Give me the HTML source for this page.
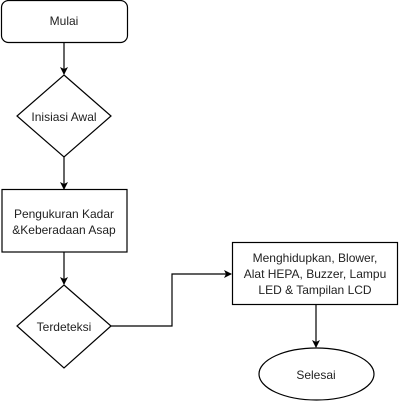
<!DOCTYPE html>
<html><head><style>body{margin:0;background:#fff}</style></head><body>
<svg width="401" height="401" viewBox="0 0 401 401" xmlns="http://www.w3.org/2000/svg" font-family="Liberation Sans, Arial, sans-serif" font-size="12" fill="#222">
<defs><marker id="a" markerWidth="8" markerHeight="8" refX="7" refY="4" orient="auto" markerUnits="userSpaceOnUse"><path d="M0,0 L8,4 L0,8 L2,4 Z" fill="#000"/></marker></defs>
<g stroke="#000" stroke-width="1.2" fill="none">
<rect x="1.5" y="0.5" width="126" height="42" rx="7"/>
<path d="M64,75 L111,116 L64,157 L17,116 Z"/>
<rect x="2" y="189.5" width="125" height="62.5"/>
<path d="M64,285 L111,326 L64,368 L17,326 Z"/>
<rect x="232.5" y="242.5" width="165" height="62"/>
<ellipse cx="316.5" cy="374" rx="57.5" ry="26"/>
<path d="M64,43 V74" marker-end="url(#a)"/>
<path d="M64,157 V189" marker-end="url(#a)"/>
<path d="M64,252 V284" marker-end="url(#a)"/>
<path d="M111,326 H172 V274 H231" marker-end="url(#a)"/>
<path d="M316,305 V347" marker-end="url(#a)"/>
</g>
<g text-anchor="middle">
<text x="64" y="25">Mulai</text>
<text x="64" y="121">Inisiasi Awal</text>
<text x="64" y="218">Pengukuran Kadar</text>
<text x="64" y="234">&amp;Keberadaan Asap</text>
<text x="64" y="331">Terdeteksi</text>
<text x="315" y="262">Menghidupkan, Blower,</text>
<text x="315" y="278">Alat HEPA, Buzzer, Lampu</text>
<text x="315" y="294">LED &amp; Tampilan LCD</text>
<text x="316" y="379">Selesai</text>
</g>
</svg>
</body></html>
